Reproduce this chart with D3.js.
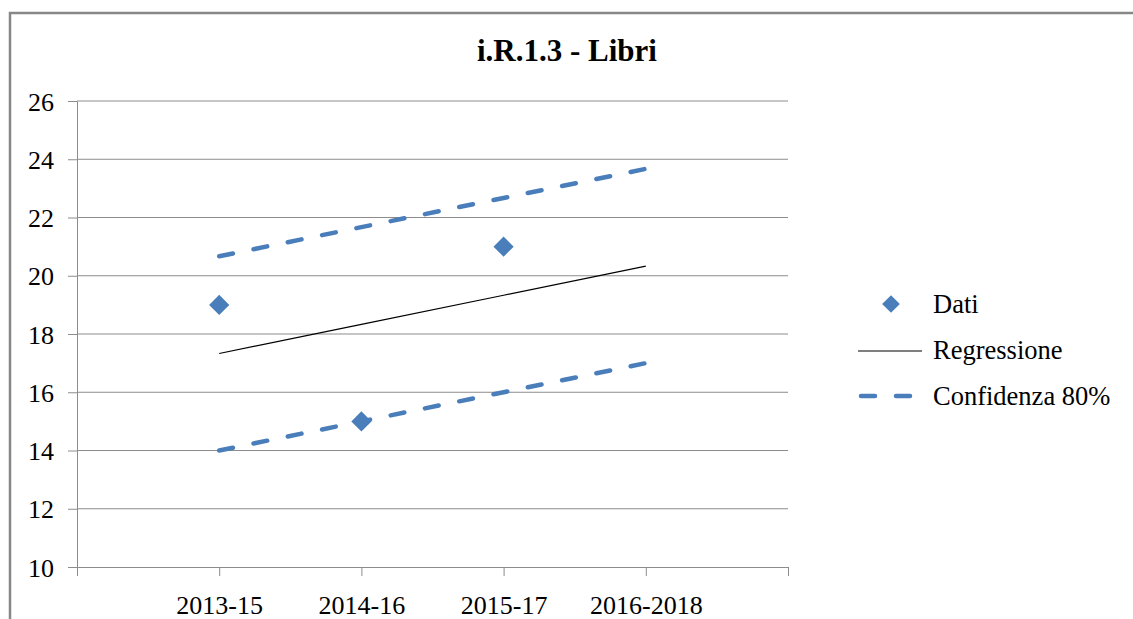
<!DOCTYPE html>
<html>
<head>
<meta charset="utf-8">
<script src="https://cdnjs.cloudflare.com/ajax/libs/d3/7.8.5/d3.min.js"></script>
<style>
  body { margin: 0; background: #fff; }
  svg text { font-family: "Liberation Serif", "Times New Roman", serif; fill: #000; }
</style>
</head>
<body>
<svg id="chart" width="1133" height="619"></svg>
<script>
// categories and values
const categories = ['2013-15', '2014-16', '2015-17', '2016-2018']
const dati = [19, 15, 21]                       // measured points
const regressione = [17.33, 18.33, 19.33, 20.33]
const confSup = [20.67, 21.67, 22.67, 23.67]
const confInf = [14, 15, 16, 17]
const yTicks = [10, 12, 14, 16, 18, 20, 22, 24, 26]

const svg = d3.select('#chart')
const blue = '#4a7ebb'

// outer frame (cut by the window on right and bottom)
svg.append('rect')
  .attr('x', 10).attr('y', 13).attr('width', 1140).attr('height', 640)
  .attr('fill', 'none').attr('stroke', '#878787').attr('stroke-width', 2.5)

const x = d3.scaleLinear().domain([0, 5]).range([77, 788])
const y = d3.scaleLinear().domain([10, 26]).range([567, 101])

// gridlines
svg.append('g').selectAll('line').data(yTicks.slice(1)).join('line')
  .attr('x1', x(0)).attr('x2', x(5))
  .attr('y1', d => y(d)).attr('y2', d => y(d))
  .attr('stroke', '#8c8c8c').attr('stroke-width', 1)

// y axis
const yAxis = svg.append('g').attr('transform', `translate(${x(0)},0)`)
  .call(d3.axisLeft(y).tickValues(yTicks).tickSize(9).tickPadding(14).tickSizeOuter(0))
yAxis.select('.domain').attr('stroke', '#8c8c8c')
yAxis.selectAll('line').attr('stroke', '#8c8c8c')
yAxis.selectAll('text').attr('font-size', 26).attr('dy', '0.35em')

// x axis
const xAxis = svg.append('g').attr('transform', `translate(0,${y(10)})`)
  .call(d3.axisBottom(x).tickValues([0, 1, 2, 3, 4, 5]).tickSize(9).tickSizeOuter(0)
    .tickFormat(d => categories[d - 1] || ''))
xAxis.select('.domain').attr('stroke', '#8c8c8c')
xAxis.selectAll('line').attr('stroke', '#8c8c8c')
xAxis.selectAll('text').attr('font-size', 26).attr('y', 38).attr('dy', '0.35em')

const line = d3.line().x((d, i) => x(i + 1)).y(d => y(d))

// confidence bands
for (const s of [confSup, confInf]) {
  svg.append('path').datum(s).attr('d', line)
    .attr('fill', 'none').attr('stroke', blue).attr('stroke-width', 4.5)
    .attr('stroke-linecap', 'round').attr('stroke-dasharray', '14,21')
}

// regression
svg.append('path').datum(regressione).attr('d', line)
  .attr('fill', 'none').attr('stroke', '#000').attr('stroke-width', 1.2)

// data points
const diamond = d3.symbol().type(d3.symbolDiamond2).size(260)
svg.append('g').selectAll('path').data(dati).join('path')
  .attr('d', diamond)
  .attr('transform', (d, i) => `translate(${x(i + 1)},${y(d)})`)
  .attr('fill', blue)

// title
svg.append('text').attr('x', 567).attr('y', 61).attr('text-anchor', 'middle')
  .attr('font-size', 31).attr('font-weight', 'bold').text('i.R.1.3 - Libri')

// legend
const lg = svg.append('g')
lg.append('path').attr('d', d3.symbol().type(d3.symbolDiamond2).size(200))
  .attr('transform', 'translate(891,304)').attr('fill', blue)
lg.append('line').attr('x1', 858).attr('x2', 922).attr('y1', 351).attr('y2', 351)
  .attr('stroke', '#000').attr('stroke-width', 1.2)
lg.append('line').attr('x1', 861).attr('x2', 919).attr('y1', 396).attr('y2', 396)
  .attr('stroke', blue).attr('stroke-width', 4.5)
  .attr('stroke-linecap', 'round').attr('stroke-dasharray', '14,21')
const legendItems = ['Dati', 'Regressione', 'Confidenza 80%']
lg.selectAll('text').data(legendItems).join('text')
  .attr('x', 933).attr('y', (d, i) => 304 + i * 46).attr('dy', '0.35em')
  .attr('font-size', 26.5).text(d => d)
</script>
</body>
</html>
